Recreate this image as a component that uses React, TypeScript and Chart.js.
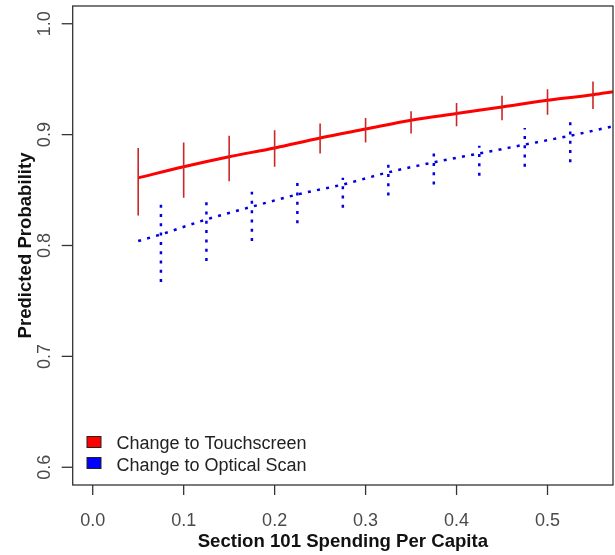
import React, { useEffect, useRef } from "react";
import { Chart, registerables } from "chart.js";

Chart.register(...registerables);

// Predicted probability curve and 95% intervals: change to touchscreen
const touchX = [0.05, 0.1, 0.15, 0.2, 0.25, 0.3, 0.35, 0.4, 0.45, 0.5, 0.55, 0.572];
const touchY = [0.861, 0.871, 0.88, 0.888, 0.897, 0.905, 0.913, 0.919, 0.925, 0.931, 0.936, 0.9386];
const touchBarX = [0.05, 0.1, 0.15, 0.2, 0.25, 0.3, 0.35, 0.4, 0.45, 0.5, 0.55];
const touchLo = [0.827, 0.843, 0.858, 0.871, 0.883, 0.893, 0.901, 0.9075, 0.913, 0.918, 0.923];
const touchHi = [0.888, 0.893, 0.899, 0.904, 0.91, 0.915, 0.921, 0.9286, 0.935, 0.941, 0.948];

// Predicted probability curve and 95% intervals: change to optical scan
const opticalX = [0.05, 0.075, 0.125, 0.175, 0.225, 0.275, 0.325, 0.375, 0.425, 0.475, 0.525, 0.572];
const opticalY = [0.804, 0.81, 0.8235, 0.835, 0.846, 0.855, 0.866, 0.875, 0.883, 0.891, 0.899, 0.9075];
const opticalBarX = [0.075, 0.125, 0.175, 0.225, 0.275, 0.325, 0.375, 0.425, 0.475, 0.525];
const opticalLo = [0.767, 0.786, 0.804, 0.82, 0.834, 0.845, 0.855, 0.863, 0.871, 0.875];
const opticalHi = [0.837, 0.839, 0.8485, 0.857, 0.861, 0.873, 0.883, 0.89, 0.906, 0.912];

const xTicks = [0, 0.1, 0.2, 0.3, 0.4, 0.5];
const xTickLabels = ["0.0", "0.1", "0.2", "0.3", "0.4", "0.5"];
const yTicks = [0.6, 0.7, 0.8, 0.9, 1.0];
const yTickLabels = ["0.6", "0.7", "0.8", "0.9", "1.0"];

const legendLabels = ["Change to Touchscreen", "Change to Optical Scan"];
const legendColors = ["#ff0000", "#0000ff"];

const xTitle = "Section 101 Spending Per Capita";
const yTitle = "Predicted Probability";

const FONT = '"Liberation Sans", Arial, sans-serif';

function whiskers(xs: number[], lo: number[], hi: number[]) {
  const pts: { x: number; y: number | null }[] = [];
  xs.forEach((x, i) => {
    pts.push({ x, y: lo[i] });
    pts.push({ x, y: hi[i] });
    pts.push({ x, y: null });
  });
  return pts;
}

function line(xs: number[], ys: number[]) {
  return xs.map((x, i) => ({ x, y: ys[i] }));
}

// Draws the frame, axes, tick labels, titles and legend in base-graphics style
const framePlugin = {
  id: "frame",
  afterDraw(chart: any) {
    const { ctx, chartArea: a, scales } = chart;
    const xs = scales.x;
    const ys = scales.y;
    ctx.save();

    // box
    ctx.strokeStyle = "#333";
    ctx.lineWidth = 1.3;
    ctx.strokeRect(a.left, a.top, a.right - a.left, a.bottom - a.top);

    // x axis ticks and labels
    ctx.font = `18px ${FONT}`;
    ctx.fillStyle = "#4a4a4a";
    ctx.textAlign = "center";
    ctx.textBaseline = "alphabetic";
    xTicks.forEach((v, i) => {
      const px = xs.getPixelForValue(v);
      ctx.beginPath();
      ctx.moveTo(px, a.bottom);
      ctx.lineTo(px, a.bottom + 10);
      ctx.stroke();
      ctx.fillText(xTickLabels[i], px, 526);
    });

    // y axis ticks and rotated labels
    yTicks.forEach((v, i) => {
      const py = ys.getPixelForValue(v);
      ctx.beginPath();
      ctx.moveTo(a.left, py);
      ctx.lineTo(a.left - 11, py);
      ctx.stroke();
      ctx.save();
      ctx.translate(50, py);
      ctx.rotate(-Math.PI / 2);
      ctx.fillText(yTickLabels[i], 0, 0);
      ctx.restore();
    });

    // axis titles
    ctx.fillStyle = "#111";
    ctx.font = `bold 18.6px ${FONT}`;
    ctx.fillText(xTitle, (a.left + a.right) / 2, 547);
    ctx.save();
    ctx.translate(31, (a.top + a.bottom) / 2);
    ctx.rotate(-Math.PI / 2);
    ctx.fillText(yTitle, 0, 0);
    ctx.restore();

    // legend
    ctx.font = `18px ${FONT}`;
    ctx.textAlign = "left";
    legendLabels.forEach((label, i) => {
      const top = 436.5 + i * 21;
      ctx.fillStyle = legendColors[i];
      ctx.fillRect(87, top, 14, 11);
      ctx.strokeStyle = "#222";
      ctx.lineWidth = 1;
      ctx.strokeRect(87, top, 14, 11);
      ctx.fillStyle = "#222";
      ctx.fillText(label, 116.5, 449.3 + i * 21.3);
    });

    ctx.restore();
  },
};

export default function App() {
  const ref = useRef<HTMLCanvasElement>(null);

  useEffect(() => {
    document.body.style.margin = "0";
    const canvas = ref.current;
    if (!canvas) return;
    const chart = new Chart(canvas, {
      type: "line",
      data: {
        datasets: [
          {
            label: "touch-ci",
            data: whiskers(touchBarX, touchLo, touchHi),
            borderColor: "#cc2626",
            borderWidth: 1.6,
            pointRadius: 0,
            spanGaps: false,
          },
          {
            label: legendLabels[0],
            data: line(touchX, touchY),
            borderColor: "#ff0000",
            borderWidth: 3,
            pointRadius: 0,
            cubicInterpolationMode: "monotone",
          },
          {
            label: "optical-ci",
            data: whiskers(opticalBarX, opticalLo, opticalHi),
            borderColor: "#0000e0",
            borderWidth: 2.5,
            borderDash: [3, 6.3],
            pointRadius: 0,
            spanGaps: false,
          },
          {
            label: legendLabels[1],
            data: line(opticalX, opticalY),
            borderColor: "#0000e0",
            borderWidth: 2.5,
            borderDash: [3, 6.3],
            pointRadius: 0,
            cubicInterpolationMode: "monotone",
          },
        ],
      } as any,
      options: {
        animation: false,
        responsive: false,
        events: [],
        layout: { padding: { left: 72.7, right: 2, top: 6, bottom: 70 } },
        plugins: {
          legend: { display: false },
          tooltip: { enabled: false },
        },
        scales: {
          x: { type: "linear", min: -0.022, max: 0.572, display: false },
          y: { type: "linear", min: 0.584, max: 1.016, display: false },
        },
      },
      plugins: [framePlugin],
    });
    return () => chart.destroy();
  }, []);

  return (
    <div style={{ position: "absolute", left: 0, top: 0, width: 615, height: 555, background: "#fff" }}>
      <canvas ref={ref} width={615} height={555} />
    </div>
  );
}
